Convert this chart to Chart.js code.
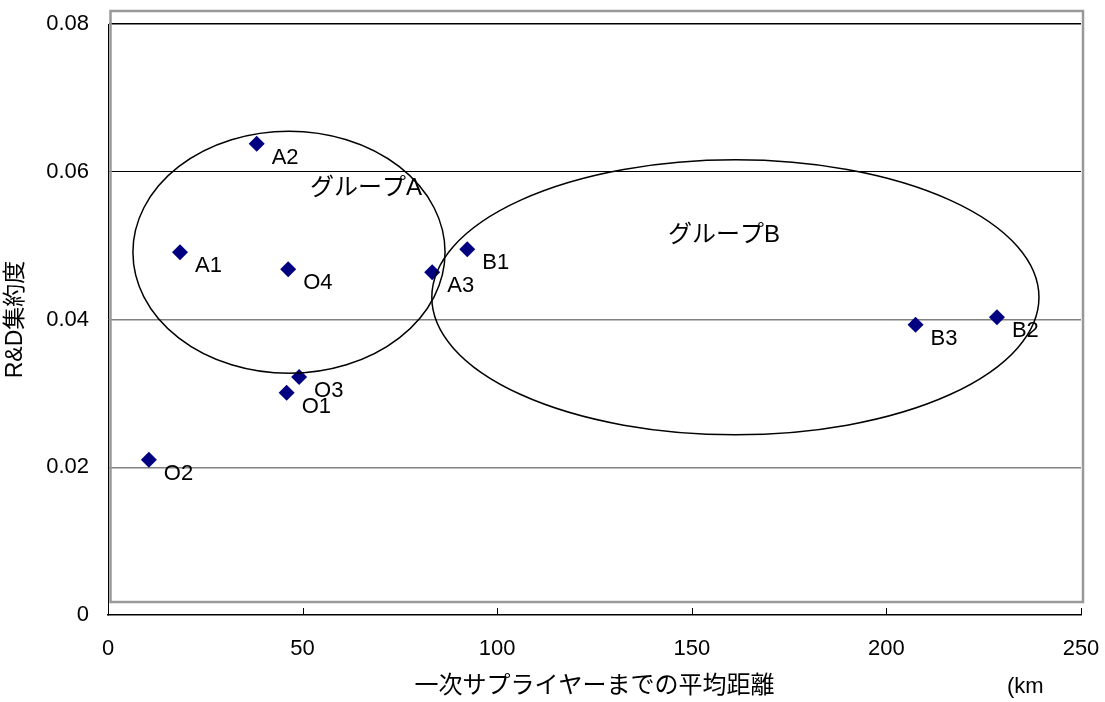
<!DOCTYPE html>
<html><head><meta charset="utf-8">
<script src="https://cdn.jsdelivr.net/npm/chart.js@4/dist/chart.umd.min.js"></script>
<style>html,body{margin:0;padding:0;background:#fff;} #wrap{width:1105px;height:702px;}</style>
</head><body><div id="wrap"><canvas id="c" width="1105" height="702"></canvas></div>
<script>
const pointNames = ['A1','A2','A3','B1','B2','B3','O1','O2','O3','O4'];
const distanceKm = [18.5,38.2,83.3,92.3,228.4,207.5,45.9,10.5,49.1,46.3];
const rdIntensity = [0.0491,0.0638,0.0464,0.0495,0.0403,0.0393,0.0301,0.0210,0.0322,0.0468];
const xTicks = [0,50,100,150,200,250];
const yTicks = [0,0.02,0.04,0.06,0.08];
const groupNames = ['グループA','グループB'];
const groupLabelX = [51.9,143.9];
const groupLabelY = [0.0577,0.0514];
const groupCenterX = [46.5,161.2];
const groupCenterY = [0.0491,0.0430];
const groupRadiusX = [40.1,78.0];
const groupRadiusY = [0.01638,0.01861];
const xTitle = '一次サプライヤーまでの平均距離';
const xUnit = '(km';
const yTitle = 'R&D集約度';

const FONT = '"Liberation Sans", Arial, "Noto Sans CJK JP", sans-serif';

const overlay = {
  id: 'overlay',
  beforeDatasetsDraw(chart) {
    const ctx = chart.ctx, xs = chart.scales.x, a = chart.chartArea;
    ctx.save();
    ctx.strokeStyle = '#999';
    ctx.lineWidth = 2.5;
    ctx.strokeRect(a.left + 2.5, a.top - 13, a.right - a.left - 0.5, a.bottom - a.top);
    ctx.strokeStyle = '#000';
    ctx.lineWidth = 1;
    xTicks.forEach(v => {
      const px = Math.round(xs.getPixelForValue(v)) + 0.5;
      ctx.beginPath(); ctx.moveTo(px, a.bottom); ctx.lineTo(px, a.bottom - 7); ctx.stroke();
    });
    ctx.restore();
  },
  afterDatasetsDraw(chart) {
    const ctx = chart.ctx, xs = chart.scales.x, ys = chart.scales.y;
    ctx.save();
    ctx.strokeStyle = '#000';
    ctx.lineWidth = 1.5;
    groupNames.forEach((g, i) => {
      const cx = xs.getPixelForValue(groupCenterX[i]);
      const cy = ys.getPixelForValue(groupCenterY[i]);
      const rx = Math.abs(xs.getPixelForValue(groupCenterX[i] + groupRadiusX[i]) - cx);
      const ry = Math.abs(ys.getPixelForValue(groupCenterY[i] + groupRadiusY[i]) - cy);
      ctx.beginPath(); ctx.ellipse(cx, cy, rx, ry, 0, 0, Math.PI * 2); ctx.stroke();
    });
    ctx.fillStyle = '#000';
    ctx.textAlign = 'left';
    ctx.textBaseline = 'middle';
    ctx.font = '24px ' + FONT;
    groupNames.forEach((g, i) => {
      ctx.fillText(g, xs.getPixelForValue(groupLabelX[i]), ys.getPixelForValue(groupLabelY[i]));
    });
    ctx.font = '22px ' + FONT;
    const meta = chart.getDatasetMeta(0);
    meta.data.forEach((el, i) => {
      ctx.fillText(pointNames[i], el.x + 15, el.y + 14);
    });
    ctx.fillText(xUnit, 1007, 687);
    ctx.restore();
  }
};

const yGridColor = v => (v === 0 ? 'rgba(0,0,0,0)' : (v >= 0.06 ? '#000' : '#808080'));
const yGridWidth = v => (v === 0.08 ? 1.5 : (v >= 0.06 ? 1 : 1.4));

new Chart(document.getElementById('c'), {
  type: 'scatter',
  data: {
    datasets: [{
      data: distanceKm.map((x, i) => ({x: x, y: rdIntensity[i]})),
      pointStyle: 'rectRot',
      pointRadius: 8,
      pointHoverRadius: 8,
      backgroundColor: '#000080',
      borderColor: '#000080',
      borderWidth: 0
    }]
  },
  options: {
    responsive: false,
    animation: false,
    layout: {padding: {top: 24, right: 24, left: 0, bottom: 0}},
    plugins: {legend: {display: false}, tooltip: {enabled: false}},
    scales: {
      x: {
        type: 'linear', min: 0, max: 250,
        afterBuildTicks: s => { s.ticks = xTicks.map(v => ({value: v})); },
        afterFit: s => { s.height = 87; s.paddingLeft = 0; s.paddingRight = 0; s.paddingTop = 0; s.paddingBottom = 0; },
        grid: {drawOnChartArea: false, drawTicks: false},
        border: {color: '#000', width: 1.5},
        ticks: {color: '#000', font: {size: 22, family: FONT}, padding: 21, maxRotation: 0, autoSkip: false},
        title: {display: true, text: xTitle, color: '#000', font: {size: 24, family: FONT}, padding: {top: 1, bottom: 1}}
      },
      y: {
        type: 'linear', min: 0, max: 0.08,
        afterBuildTicks: s => { s.ticks = yTicks.map(v => ({value: v})); },
        afterFit: s => { s.width = 108; s.paddingLeft = 0; s.paddingRight = 0; s.paddingTop = 0; s.paddingBottom = 0; },
        grid: {drawTicks: false, color: c => yGridColor(c.tick.value), lineWidth: c => yGridWidth(c.tick.value)},
        border: {color: '#000', width: 1},
        ticks: {color: '#000', font: {size: 22, family: FONT}, padding: 19, callback: v => String(v)},
        title: {display: true, text: yTitle, color: '#000', font: {size: 23, family: FONT}, padding: {top: 2, bottom: 2}}
      }
    }
  },
  plugins: [overlay]
});
</script></body></html>
